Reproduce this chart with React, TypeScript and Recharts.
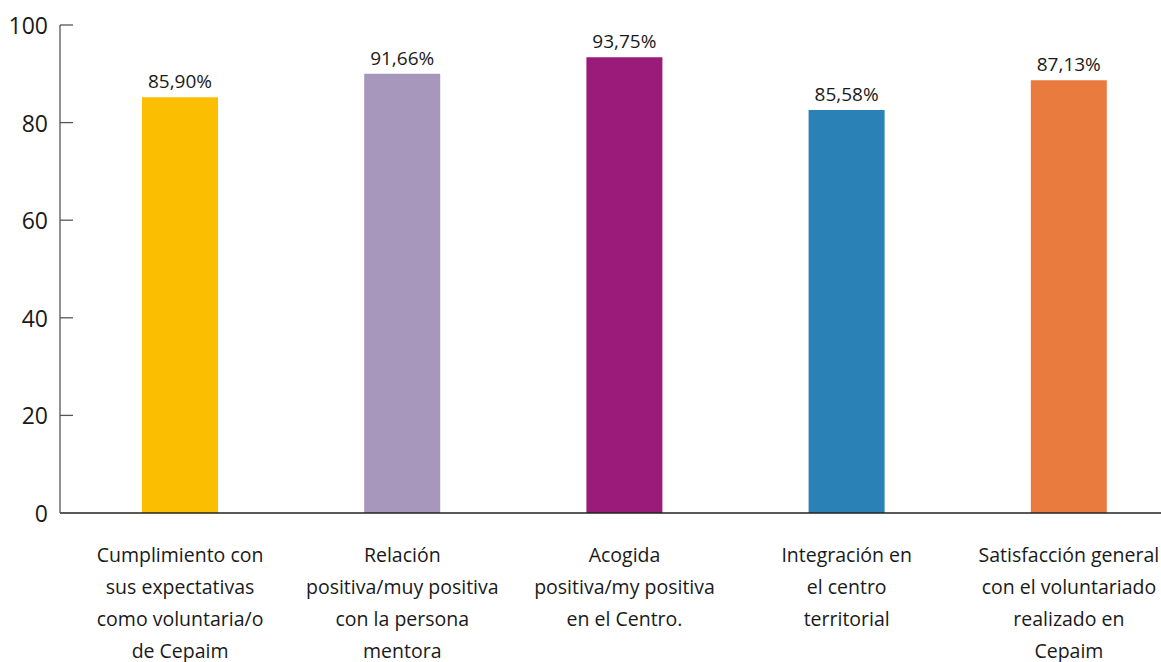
import { Bar, BarChart, Cell, LabelList, XAxis, YAxis } from "recharts";

const categories = [
  "Cumplimiento con sus expectativas como voluntaria/o de Cepaim",
  "Relación positiva/muy positiva con la persona mentora",
  "Acogida positiva/my positiva en el Centro.",
  "Integración en el centro territorial",
  "Satisfacción general con el voluntariado realizado en Cepaim",
];
const categoryLines = [
  ["Cumplimiento con", "sus expectativas", "como voluntaria/o", "de Cepaim"],
  ["Relación", "positiva/muy positiva", "con la persona", "mentora"],
  ["Acogida", "positiva/my positiva", "en el Centro."],
  ["Integración en", "el centro", "territorial"],
  ["Satisfacción general", "con el voluntariado", "realizado en", "Cepaim"],
];
const barValues = [85.2, 90.0, 93.4, 82.6, 88.7];
const valueLabels = ["85,90%", "91,66%", "93,75%", "85,58%", "87,13%"];
const barColors = ["#fbbe00", "#a897bd", "#9b1b7a", "#2981b6", "#e97b3e"];
const yTicks = [0, 20, 40, 60, 80, 100];

const font = "'Open Sans', sans-serif";

const data = categories.map((name, i) => ({ name, value: barValues[i], label: valueLabels[i], idx: i }));

function CategoryTick({ x, y, index }: any) {
  const lines = categoryLines[index] ?? [];
  return (
    <text x={x} y={y} textAnchor="middle" fontFamily={font} fontSize={19.5} fill="#1a1a1a">
      {lines.map((line, i) => (
        <tspan key={i} x={x} y={y + 41 + i * 32}>{line}</tspan>
      ))}
    </text>
  );
}

function ValueTick({ x, y, payload }: any) {
  return (
    <g>
      {payload.value !== 0 && <line x1={x} x2={x + 13} y1={y} y2={y} stroke="#555" strokeWidth={1.3} />}
      <text x={x - 12} y={y + 9} textAnchor="end" fontFamily={font} fontSize={23} fill="#1a1a1a">{payload.value}</text>
    </g>
  );
}

export default function App() {
  return (
    <div style={{ position: "absolute", left: 0, top: 0, width: 1161, height: 662, overflow: "hidden", background: "#fff" }}>
      <BarChart width={1180} height={662} data={data} margin={{ top: 25, right: 0, bottom: 0, left: 0 }}>
        <XAxis dataKey="name" interval={0} height={149} padding={{ left: 9, right: 0 }} tick={<CategoryTick />} tickLine={false} axisLine={{ stroke: "#222", strokeWidth: 1.3 }} />
        <YAxis type="number" domain={[0, 100]} ticks={yTicks} width={60} tickSize={0} tickMargin={0} tick={<ValueTick />} tickLine={false} axisLine={{ stroke: "#555", strokeWidth: 1.3 }} />
        <Bar dataKey="value" barSize={76} isAnimationActive={false}>
          {data.map((d) => <Cell key={d.name} fill={barColors[d.idx]} />)}
          <LabelList dataKey="label" position="top" offset={9} style={{ fontFamily: font, fontSize: 19, fill: "#1a1a1a" }} />
        </Bar>
      </BarChart>
    </div>
  );
}
